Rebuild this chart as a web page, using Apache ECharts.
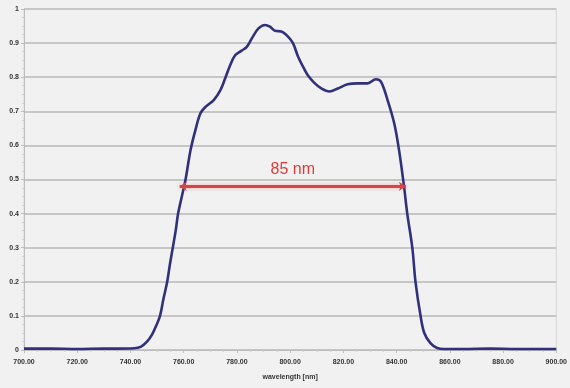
<!DOCTYPE html>
<html>
<head>
<meta charset="utf-8">
<script src="https://cdn.jsdelivr.net/npm/echarts@6/dist/echarts.min.js"></script>
<style>
  html, body { margin: 0; padding: 0; background: #f1f1f1; }
  #chart { width: 570px; height: 388px; }
</style>
</head>
<body>
<div id="chart"></div>
<script>
// Measured spectrum: wavelength (nm) and normalised intensity
const wavelengths = [
  700, 710, 720, 730, 735, 741.4, 744.0, 746.3, 748.1, 749.6, 751.1, 752.4, 753.8, 754.8,
  755.9, 757.0, 757.9, 759.3, 760.7, 762.6, 764.4, 766.3, 768.2, 771.3, 773.8, 775.6,
  777.5, 779.4, 781.8, 783.7, 785.6, 788.1, 790.6, 792.4, 794.3, 796.7, 799.2, 801.1,
  803.0, 805.5, 806.7, 808.9, 811.7, 814.8, 817.9, 821.6, 825.4, 829.1, 832.2, 834.1,
  836.6, 839.1, 840.9, 842.8, 844.0, 845.9, 847.1, 849.0, 850.4, 852.7, 855.2, 857.8,
  865, 875, 885, 900
];
const intensity = [
  0.004, 0.004, 0.003, 0.004, 0.004, 0.005, 0.01, 0.025, 0.045, 0.07, 0.1, 0.15, 0.2, 0.25,
  0.3, 0.35, 0.4, 0.45, 0.5, 0.587, 0.645, 0.694, 0.713, 0.733, 0.762, 0.797,
  0.836, 0.865, 0.878, 0.889, 0.914, 0.943, 0.953, 0.948, 0.936, 0.934, 0.919, 0.899,
  0.86, 0.821, 0.805, 0.785, 0.767, 0.758, 0.767, 0.779, 0.782, 0.782, 0.794, 0.787,
  0.733, 0.665, 0.587, 0.479, 0.4, 0.3, 0.2, 0.1, 0.05, 0.02, 0.006, 0.003,
  0.003, 0.004, 0.003, 0.003
];

// Full width at half maximum
const fwhmLevel = 0.48;
const fwhmStart = 758.5;
const fwhmWidth = 85;
const fwhmLabel = '85 nm';

const xMin = 700, xMax = 900, xStep = 20;
const yMin = 0, yMax = 1, yStep = 0.1;
const axisTitle = 'wavelength [nm]';

const points = wavelengths.map((w, i) => [w, intensity[i]]);

const chart = echarts.init(document.getElementById('chart'));
chart.setOption({
  backgroundColor: '#f1f1f1',
  animation: false,
  grid: {
    left: 24, right: 10, top: 9, bottom: 38,
    show: true, backgroundColor: '#f1f1f1', borderColor: '#d6d6d6', borderWidth: 1
  },
  xAxis: {
    type: 'value', min: xMin, max: xMax, interval: xStep,
    name: axisTitle, nameLocation: 'middle', nameGap: 24,
    nameTextStyle: { fontFamily: 'Liberation Sans', fontSize: 7, fontWeight: 'bold', color: '#333' },
    axisLine: { show: true, lineStyle: { color: '#bdbdbd', width: 1 } },
    axisTick: { show: true, length: 3, lineStyle: { color: '#bdbdbd' } },
    minorTick: { show: true, splitNumber: 4, length: 2, lineStyle: { color: '#cfcfcf' } },
    splitLine: { show: false },
    axisLabel: {
      fontFamily: 'Liberation Sans', fontSize: 7, fontWeight: 'bold', color: '#333', margin: 9,
      formatter: v => v.toFixed(2)
    }
  },
  yAxis: {
    type: 'value', min: yMin, max: yMax, interval: yStep,
    axisLine: { show: true, lineStyle: { color: '#bdbdbd', width: 1 } },
    axisTick: { show: true, length: 3, lineStyle: { color: '#bdbdbd' } },
    minorTick: { show: true, splitNumber: 4, length: 2, lineStyle: { color: '#cfcfcf' } },
    splitLine: { show: true, lineStyle: { color: '#c6c6c6', width: 2 } },
    axisLabel: {
      fontFamily: 'Liberation Sans', fontSize: 7, fontWeight: 'bold', color: '#333', margin: 5,
      formatter: v => (v === 0 ? '0' : v === 1 ? '1' : v.toFixed(1))
    }
  },
  series: [{
    type: 'line',
    data: points,
    showSymbol: false,
    smooth: 0.35,
    lineStyle: { color: '#30307c', width: 2.6 },
    markLine: {
      silent: true,
      symbol: ['arrow', 'arrow'],
      symbolSize: [7, 7],
      lineStyle: { color: '#d94444', width: 3, type: 'solid', shadowColor: 'rgba(230,90,90,0.45)', shadowBlur: 4 },
      label: {
        show: true, position: 'insideMiddleTop', distance: 9,
        formatter: fwhmLabel,
        fontFamily: 'Liberation Sans', fontSize: 16, color: '#e03a3a'
      },
      data: [[
        { coord: [fwhmStart, fwhmLevel] },
        { coord: [fwhmStart + fwhmWidth, fwhmLevel] }
      ]]
    }
  }]
});
</script>
</body>
</html>
